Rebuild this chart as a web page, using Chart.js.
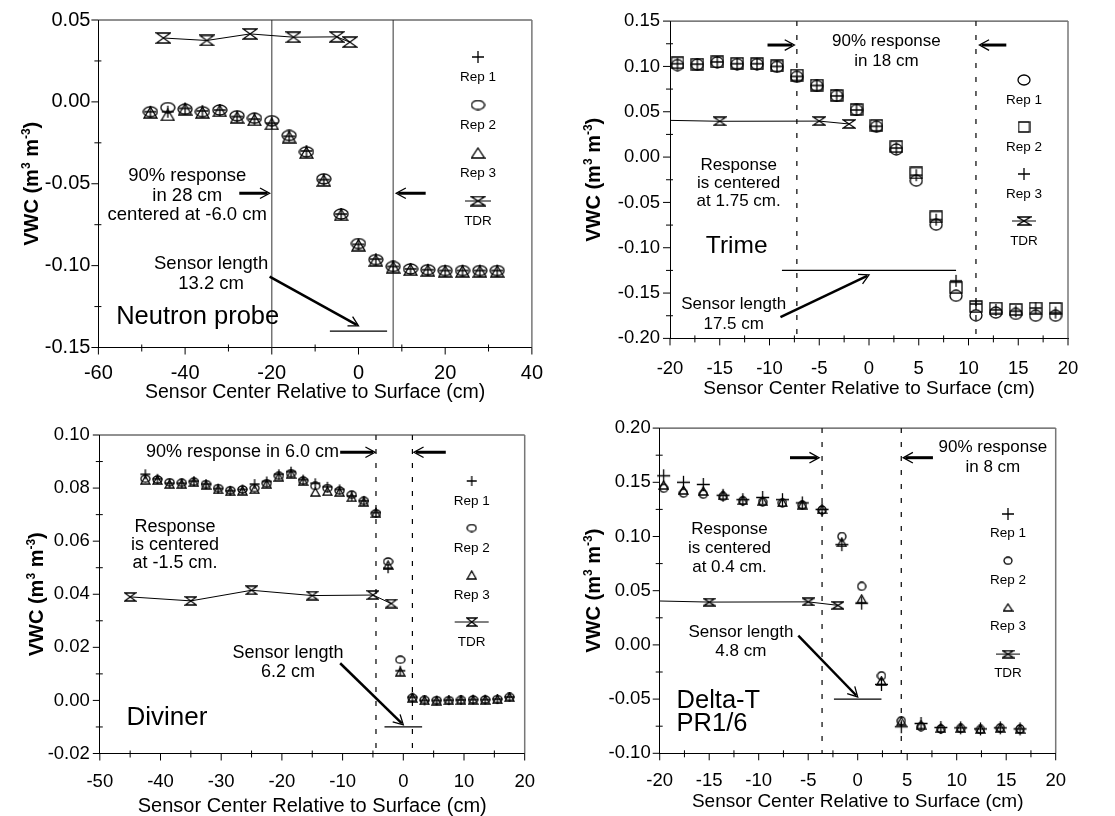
<!DOCTYPE html>
<html>
<head>
<meta charset="utf-8">
<script src="https://cdn.jsdelivr.net/npm/chart.js@4.4.1/dist/chart.umd.min.js"></script>
<style>
  body { margin: 0; background: #fff; width: 1115px; height: 816px; overflow: hidden; position: relative; }
  canvas { position: absolute; }
</style>
</head>
<body>
<canvas id="c1" width="557" height="408" style="left:0;top:0"></canvas>
<canvas id="c2" width="558" height="408" style="left:557px;top:0"></canvas>
<canvas id="c3" width="557" height="408" style="left:0;top:408px"></canvas>
<canvas id="c4" width="558" height="408" style="left:557px;top:408px"></canvas>
<script>
const FONT = "'Liberation Sans', Arial, sans-serif";

// TDR reference (same in every panel)
const tdrX = [-45, -35, -25, -15, -5, -2];
const tdrVWC = [0.0390, 0.0375, 0.0415, 0.0395, 0.0397, 0.0365];

// Neutron probe
const npX = [-48, -44, -40, -36, -32, -28, -24, -20, -16, -12, -8, -4, 0, 4, 8, 12, 16, 20, 24, 28, 32];
const npRep1 = [-0.0060, -0.0060, -0.0040, -0.0055, -0.0050, -0.0090, -0.0105, -0.0130, -0.0210, -0.0300, -0.0475, -0.0685, -0.0870, -0.0960, -0.1005, -0.1020, -0.1025, -0.1030, -0.1030, -0.1030, -0.1030];
const npRep2 = [-0.0060, -0.0035, -0.0045, -0.0060, -0.0050, -0.0085, -0.0100, -0.0115, -0.0205, -0.0305, -0.0470, -0.0685, -0.0865, -0.0963, -0.1005, -0.1020, -0.1025, -0.1030, -0.1030, -0.1030, -0.1030];
const npRep3 = [-0.0065, -0.0080, -0.0045, -0.0065, -0.0055, -0.0095, -0.0110, -0.0135, -0.0215, -0.0310, -0.0480, -0.0690, -0.0875, -0.0968, -0.1010, -0.1025, -0.1030, -0.1035, -0.1035, -0.1035, -0.1035];

// Trime
const trX = [-19.25, -17.25, -15.25, -13.25, -11.25, -9.25, -7.25, -5.25, -3.25, -1.25, 0.75, 2.75, 4.75, 6.75, 8.75, 10.75, 12.75, 14.75, 16.75, 18.75];
const trRep1 = [0.1015, 0.1020, 0.1045, 0.1025, 0.1025, 0.0995, 0.0885, 0.0785, 0.0675, 0.0520, 0.0335, 0.0085, -0.0260, -0.0745, -0.1530, -0.1745, -0.1715, -0.1730, -0.1750, -0.1750];
const trRep2 = [0.1040, 0.1025, 0.1050, 0.1035, 0.1030, 0.1005, 0.0905, 0.0795, 0.0680, 0.0525, 0.0350, 0.0115, -0.0175, -0.0660, -0.1440, -0.1650, -0.1665, -0.1680, -0.1665, -0.1670];
const trRep3 = [0.1030, 0.1025, 0.1050, 0.1030, 0.1030, 0.1000, 0.0890, 0.0790, 0.0675, 0.0520, 0.0340, 0.0100, -0.0200, -0.0690, -0.1365, -0.1620, -0.1685, -0.1700, -0.1665, -0.1715];

// Diviner
const dvX = [-42.5, -40.5, -38.5, -36.5, -34.5, -32.5, -30.5, -28.5, -26.5, -24.5, -22.5, -20.5, -18.5, -16.5, -14.5, -12.5, -10.5, -8.5, -6.5, -4.5, -2.5, -0.5, 1.5, 3.5, 5.5, 7.5, 9.5, 11.5, 13.5, 15.5, 17.5];
const dvRep1 = [0.0852, 0.0835, 0.0818, 0.0818, 0.0826, 0.0815, 0.0798, 0.0790, 0.0795, 0.0815, 0.0825, 0.0852, 0.0862, 0.0832, 0.0818, 0.0805, 0.0795, 0.0770, 0.0752, 0.0708, 0.0498, 0.0112, 0.0012, 0.0000, 0.0000, 0.0001, 0.0002, 0.0003, 0.0003, 0.0005, 0.0013];
const dvRep2 = [0.0835, 0.0832, 0.0822, 0.0820, 0.0824, 0.0815, 0.0800, 0.0792, 0.0795, 0.0800, 0.0818, 0.0846, 0.0856, 0.0828, 0.0808, 0.0800, 0.0790, 0.0775, 0.0752, 0.0705, 0.0523, 0.0153, 0.0010, 0.0002, 0.0001, 0.0001, 0.0002, 0.0003, 0.0003, 0.0005, 0.0013];
const dvRep3 = [0.0830, 0.0830, 0.0815, 0.0815, 0.0822, 0.0812, 0.0795, 0.0788, 0.0790, 0.0795, 0.0815, 0.0842, 0.0853, 0.0826, 0.0785, 0.0788, 0.0785, 0.0765, 0.0748, 0.0705, 0.0510, 0.0108, 0.0010, 0.0000, -0.0001, 0.0000, 0.0001, 0.0002, 0.0002, 0.0004, 0.0012];

// Delta-T PR1/6
const dtX = [-19.6, -17.6, -15.6, -13.6, -11.6, -9.6, -7.6, -5.6, -3.6, -1.6, 0.4, 2.4, 4.4, 6.4, 8.4, 10.4, 12.4, 14.4, 16.4];
const dtRep1 = [0.1560, 0.1500, 0.1480, 0.1380, 0.1340, 0.1360, 0.1340, 0.1310, 0.1250, 0.0925, 0.0385, -0.0365, -0.0755, -0.0725, -0.0762, -0.0765, -0.0775, -0.0765, -0.0775];
const dtRep2 = [0.1445, 0.1400, 0.1390, 0.1370, 0.1330, 0.1320, 0.1310, 0.1290, 0.1245, 0.1000, 0.0540, -0.0285, -0.0700, -0.0755, -0.0775, -0.0770, -0.0780, -0.0765, -0.0775];
const dtRep3 = [0.1475, 0.1430, 0.1420, 0.1380, 0.1335, 0.1330, 0.1315, 0.1295, 0.1250, 0.0945, 0.0425, -0.0330, -0.0705, -0.0735, -0.0765, -0.0765, -0.0775, -0.0765, -0.0775];

// tick labels
const npXTicks = [-60, -40, -20, 0, 20, 40];
const npYTicks = [-0.15, -0.10, -0.05, 0.00, 0.05];
const trXTicks = [-20, -15, -10, -5, 0, 5, 10, 15, 20];
const trYTicks = [-0.20, -0.15, -0.10, -0.05, 0.00, 0.05, 0.10, 0.15];
const dvXTicks = [-50, -40, -30, -20, -10, 0, 10, 20];
const dvYTicks = [-0.02, 0.00, 0.02, 0.04, 0.06, 0.08, 0.10];
const dtXTicks = [-20, -15, -10, -5, 0, 5, 10, 15, 20];
const dtYTicks = [-0.10, -0.05, 0.00, 0.05, 0.10, 0.15, 0.20];

const X_TITLE = 'Sensor Center Relative to Surface (cm)';

// small canvas images used as point styles
function marker(kind, w, h) {
  const c = document.createElement('canvas');
  c.width = w + 2; c.height = h + 2;
  const g = c.getContext('2d');
  g.strokeStyle = '#000'; g.lineWidth = 1.3;
  const x0 = 1, y0 = 1, cx = c.width / 2, cy = c.height / 2;
  g.beginPath();
  if (kind === 'plus') {
    g.moveTo(x0, cy); g.lineTo(x0 + w, cy);
    g.moveTo(cx, y0); g.lineTo(cx, y0 + h);
  } else if (kind === 'circle') {
    g.ellipse(cx, cy, w / 2, h / 2, 0, 0, Math.PI * 2);
  } else if (kind === 'triangle') {
    g.moveTo(cx, y0); g.lineTo(x0 + w, y0 + h); g.lineTo(x0, y0 + h); g.closePath();
  } else if (kind === 'square') {
    g.rect(x0, y0, w, h);
  } else if (kind === 'tdr') {
    g.moveTo(x0, y0); g.lineTo(x0 + w, y0); g.lineTo(x0, y0 + h); g.lineTo(x0 + w, y0 + h); g.closePath();
  }
  g.stroke();
  return c;
}

function pts(xs, ys) {
  return xs.map((x, i) => ({ x: x, y: ys[i] }));
}

function arrow(ctx, x1, y1, x2, y2, shaft) {
  const a = Math.atan2(y2 - y1, x2 - x1);
  ctx.lineWidth = shaft;
  ctx.beginPath();
  ctx.moveTo(x1, y1);
  ctx.lineTo(x2 - Math.cos(a) * 2, y2 - Math.sin(a) * 2);
  ctx.stroke();
  ctx.lineWidth = 1.3;
  ctx.beginPath();
  ctx.moveTo(x2 - 11 * Math.cos(a - 0.5), y2 - 11 * Math.sin(a - 0.5));
  ctx.lineTo(x2, y2);
  ctx.lineTo(x2 - 11 * Math.cos(a + 0.5), y2 - 11 * Math.sin(a + 0.5));
  ctx.stroke();
}

function drawYTitle(ctx, cx, cy, size) {
  const parts = [['VWC (m', 0], ['3', 1], [' m', 0], ['-3', 1], [')', 0]];
  const big = 'bold ' + size + 'px ' + FONT;
  const small = 'bold ' + Math.round(size * 0.62) + 'px ' + FONT;
  ctx.save();
  ctx.translate(cx, cy);
  ctx.rotate(-Math.PI / 2);
  let total = 0;
  parts.forEach(p => { ctx.font = p[1] ? small : big; total += ctx.measureText(p[0]).width; });
  let x = -total / 2;
  const base = size * 0.36;
  ctx.textAlign = 'left';
  ctx.textBaseline = 'alphabetic';
  ctx.fillStyle = '#000';
  parts.forEach(p => {
    ctx.font = p[1] ? small : big;
    ctx.fillText(p[0], x, p[1] ? base - size * 0.42 : base);
    x += ctx.measureText(p[0]).width;
  });
  ctx.restore();
}

// frame, minor ticks, arrows, notes, legend, titles
function decor(p) {
  return {
    id: 'decor',
    beforeDatasetsDraw(chart) {
      const { ctx, chartArea: a, scales: { x, y } } = chart;
      ctx.save();
      p.vlines.forEach(v => {
        const px = x.getPixelForValue(v);
        ctx.lineWidth = 1.2;
        ctx.strokeStyle = p.dashed ? '#000' : '#555';
        ctx.setLineDash(p.dashed ? [5, 9] : []);
        ctx.beginPath();
        ctx.moveTo(px, a.top);
        ctx.lineTo(px, a.bottom);
        ctx.stroke();
      });
      ctx.setLineDash([]);
      ctx.strokeStyle = '#000';
      ctx.lineWidth = 1.3;
      const s = p.sensor;
      ctx.beginPath();
      ctx.moveTo(x.getPixelForValue(s[0]), y.getPixelForValue(s[2]));
      ctx.lineTo(x.getPixelForValue(s[1]), y.getPixelForValue(s[2]));
      ctx.stroke();
      ctx.restore();
    },
    afterDraw(chart) {
      const { ctx, chartArea: a, scales: { x, y } } = chart;
      ctx.save();
      // frame top / right
      ctx.strokeStyle = '#222'; ctx.lineWidth = 1;
      ctx.beginPath(); ctx.moveTo(a.left, a.top); ctx.lineTo(a.right, a.top); ctx.stroke();
      ctx.strokeStyle = '#777'; ctx.lineWidth = 1.5;
      ctx.beginPath(); ctx.moveTo(a.right, a.top); ctx.lineTo(a.right, a.bottom); ctx.stroke();
      // ticks
      ctx.strokeStyle = '#000'; ctx.lineWidth = 1;
      const xt = p.xTicks, yt = p.yTicks;
      ctx.beginPath();
      xt.forEach((v, i) => {
        const px = x.getPixelForValue(v);
        ctx.moveTo(px, a.bottom); ctx.lineTo(px, a.bottom + 7);
        if (i < xt.length - 1) {
          const m = x.getPixelForValue((v + xt[i + 1]) / 2);
          ctx.moveTo(m, a.bottom - 3); ctx.lineTo(m, a.bottom + 4);
        }
      });
      yt.forEach((v, i) => {
        const py = y.getPixelForValue(v);
        ctx.moveTo(a.left - 7, py); ctx.lineTo(a.left, py);
        if (i < yt.length - 1) {
          const m = y.getPixelForValue((v + yt[i + 1]) / 2);
          ctx.moveTo(a.left - 4, m); ctx.lineTo(a.left + 3, m);
        }
      });
      ctx.stroke();
      // arrows
      ctx.strokeStyle = '#000';
      p.arrows.forEach(r => {
        arrow(ctx, x.getPixelForValue(r[0]), y.getPixelForValue(r[1]),
          x.getPixelForValue(r[2]), y.getPixelForValue(r[3]), r[4]);
      });
      // notes
      ctx.fillStyle = '#000';
      ctx.textBaseline = 'middle';
      p.notes.forEach(n => {
        ctx.font = n.size + 'px ' + FONT;
        ctx.textAlign = n.align || 'center';
        const px = x.getPixelForValue(n.x), py = y.getPixelForValue(n.y);
        n.lines.forEach((t, i) => ctx.fillText(t, px, py + i * n.gap));
      });
      // legend
      const L = p.legend;
      ctx.font = '13.5px ' + FONT;
      ctx.textAlign = 'center';
      L.items.forEach((it, i) => {
        const sy = L.sym0 + i * L.step, ty = L.text0 + i * L.step;
        if (it.line) {
          ctx.lineWidth = 1;
          ctx.beginPath();
          ctx.moveTo(L.cx - it.line / 2, sy); ctx.lineTo(L.cx + it.line / 2, sy);
          ctx.stroke();
        }
        ctx.drawImage(it.img, L.cx - it.img.width / 2, sy - it.img.height / 2);
        ctx.fillText(it.label, L.cx, ty);
      });
      // axis titles
      ctx.font = p.xTitleSize + 'px ' + FONT;
      ctx.textAlign = 'center';
      ctx.fillText(X_TITLE, (a.left + a.right) / 2, p.xTitleY);
      drawYTitle(ctx, p.yTitleX, (a.top + a.bottom) / 2, 20);
      ctx.restore();
    }
  };
}

function makePanel(id, p) {
  const cv = document.getElementById(id);
  const W = cv.width, H = cv.height;
  const datasets = p.series.map(s => ({
    data: s.data,
    pointStyle: s.img,
    pointRadius: 5,
    showLine: false,
    clip: false
  }));
  datasets.push({
    data: pts(tdrX, tdrVWC),
    pointStyle: p.tdrImg,
    pointRadius: 5,
    showLine: true,
    borderColor: '#000',
    borderWidth: 1,
    clip: 0
  });
  const tickFont = { family: FONT, size: p.tickSize, lineHeight: 1.2 };
  new Chart(cv, {
    type: 'scatter',
    data: { datasets: datasets },
    options: {
      responsive: false,
      animation: false,
      devicePixelRatio: 1,
      layout: { autoPadding: false, padding: { top: p.plot.top, right: W - p.plot.right, left: 0, bottom: 0 } },
      plugins: { legend: { display: false }, tooltip: { enabled: false } },
      scales: {
        x: {
          type: 'linear', min: p.xTicks[0], max: p.xTicks[p.xTicks.length - 1],
          afterBuildTicks: sc => { sc.ticks = p.xTicks.map(v => ({ value: v })); },
          afterFit: sc => { sc.height = H - p.plot.bottom; },
          ticks: { font: tickFont, color: '#000', padding: p.xPad, autoSkip: false, maxRotation: 0, callback: v => String(v) },
          grid: { display: false, drawTicks: false },
          border: { display: true, color: '#000', width: 1 }
        },
        y: {
          type: 'linear', min: p.yTicks[0], max: p.yTicks[p.yTicks.length - 1],
          afterBuildTicks: sc => { sc.ticks = p.yTicks.map(v => ({ value: v })); },
          afterFit: sc => { sc.width = p.plot.left; },
          ticks: { font: tickFont, color: '#000', padding: p.yPad, autoSkip: false, callback: v => v.toFixed(2) },
          grid: { display: false, drawTicks: false },
          border: { display: true, color: '#000', width: 1 }
        }
      }
    },
    plugins: [decor(p)]
  });
}

// ---- panel 1: Neutron probe
{
  const plus = marker('plus', 12, 12), circ = marker('circle', 14, 10), tri = marker('triangle', 13, 11);
  makePanel('c1', {
    plot: { left: 98.4, top: 18.3, right: 540, bottom: 347.5 },
    xTicks: npXTicks, yTicks: npYTicks, tickSize: 20, xPad: 14, yPad: 8,
    series: [{ data: pts(npX, npRep1), img: plus }, { data: pts(npX, npRep2), img: circ }, { data: pts(npX, npRep3), img: tri }],
    tdrImg: marker('tdr', 14, 10),
    dashed: false, vlines: [-20, 8], sensor: [-6.6, 6.6, -0.14],
    arrows: [[-27.5, -0.0558, -20.5, -0.0558, 3], [15.5, -0.0558, 8.7, -0.0558, 3], [-20.5, -0.1067, 0, -0.1368, 2.5]],
    notes: [
      { x: -39.5, y: -0.0455, lines: ['90% response', 'in 28 cm', 'centered at -6.0 cm'], gap: 19.5, size: 18.5 },
      { x: -34, y: -0.099, lines: ['Sensor length', '13.2 cm'], gap: 20, size: 18.5 },
      { x: -55.9, y: -0.1313, lines: ['Neutron probe'], gap: 0, size: 25.5, align: 'left' }
    ],
    legend: { cx: 478, sym0: 57, text0: 77, step: 48, items: [
      { img: marker('plus', 12, 12), label: 'Rep 1' },
      { img: marker('circle', 13, 9), label: 'Rep 2' },
      { img: marker('triangle', 13, 10), label: 'Rep 3' },
      { img: marker('tdr', 14, 9), label: 'TDR', line: 26 }
    ] },
    xTitleSize: 19.5, xTitleY: 393, yTitleX: 31
  });
}

// ---- panel 2: Trime
{
  const circ = marker('circle', 12, 11), sq = marker('square', 12, 11), plus = marker('plus', 12, 12);
  makePanel('c2', {
    plot: { left: 113, top: 15.7, right: 511, bottom: 338.4 },
    xTicks: trXTicks, yTicks: trYTicks, tickSize: 18.5, xPad: 19.5, yPad: 10,
    series: [{ data: pts(trX, trRep1), img: circ }, { data: pts(trX, trRep2), img: sq }, { data: pts(trX, trRep3), img: plus }],
    tdrImg: marker('tdr', 12, 8),
    dashed: true, vlines: [-7.25, 10.75], sensor: [-8.75, 8.75, -0.125],
    arrows: [[-10.2, 0.1236, -7.5, 0.1236, 3], [13.8, 0.1236, 11.1, 0.1236, 3], [-8.9, -0.1765, 0, -0.13, 2.5]],
    notes: [
      { x: 1.75, y: 0.1272, lines: ['90% response', 'in 18 cm'], gap: 20, size: 17 },
      { x: -13.1, y: -0.009, lines: ['Response', 'is centered', 'at 1.75 cm.'], gap: 18.2, size: 17 },
      { x: -16.4, y: -0.0987, lines: ['Trime'], gap: 0, size: 24.5, align: 'left' },
      { x: -13.6, y: -0.162, lines: ['Sensor length', '17.5 cm'], gap: 20, size: 17 }
    ],
    legend: { cx: 467, sym0: 80, text0: 100.7, step: 47, items: [
      { img: marker('circle', 12, 10), label: 'Rep 1' },
      { img: marker('square', 11, 10), label: 'Rep 2' },
      { img: marker('plus', 12, 12), label: 'Rep 3' },
      { img: marker('tdr', 13, 8), label: 'TDR', line: 24 }
    ] },
    xTitleSize: 19, xTitleY: 388.5, yTitleX: 36
  });
}

// ---- panel 3: Diviner
{
  const plus = marker('plus', 10, 10), circ = marker('circle', 9, 7), tri = marker('triangle', 9, 8);
  makePanel('c3', {
    plot: { left: 99.8, top: 27, right: 524.7, bottom: 345.5 },
    xTicks: dvXTicks, yTicks: dvYTicks, tickSize: 18.5, xPad: 17.4, yPad: 10,
    series: [{ data: pts(dvX, dvRep1), img: plus }, { data: pts(dvX, dvRep2), img: circ }, { data: pts(dvX, dvRep3), img: tri }],
    tdrImg: marker('tdr', 11, 8),
    dashed: true, vlines: [-4.5, 1.5], sensor: [-3.1, 3.1, -0.01],
    arrows: [[-10.4, 0.0935, -4.65, 0.0935, 3], [7.0, 0.0935, 1.75, 0.0935, 3], [-10.4, 0.014, 0, -0.0092, 2.5]],
    notes: [
      { x: -26.5, y: 0.0935, lines: ['90% response in 6.0 cm'], gap: 0, size: 18 },
      { x: -37.6, y: 0.0655, lines: ['Response', 'is centered', 'at -1.5 cm.'], gap: 18.3, size: 18 },
      { x: -19, y: 0.0178, lines: ['Sensor length', '6.2 cm'], gap: 18.4, size: 18 },
      { x: -45.6, y: -0.0067, lines: ['Diviner'], gap: 0, size: 26, align: 'left' }
    ],
    legend: { cx: 471.7, sym0: 73, text0: 93, step: 47, items: [
      { img: marker('plus', 10, 10), label: 'Rep 1' },
      { img: marker('circle', 9, 7), label: 'Rep 2' },
      { img: marker('triangle', 9, 8), label: 'Rep 3' },
      { img: marker('tdr', 10, 8), label: 'TDR', line: 34 }
    ] },
    xTitleSize: 20, xTitleY: 398, yTitleX: 36
  });
}

// ---- panel 4: Delta-T PR1/6
{
  const plus = marker('plus', 13, 13), circ = marker('circle', 8, 8), tri = marker('triangle', 9, 8);
  makePanel('c4', {
    plot: { left: 102.7, top: 19.3, right: 498.7, bottom: 345.3 },
    xTicks: dtXTicks, yTicks: dtYTicks, tickSize: 18.5, xPad: 16.6, yPad: 9,
    series: [{ data: pts(dtX, dtRep1), img: plus }, { data: pts(dtX, dtRep2), img: circ }, { data: pts(dtX, dtRep3), img: tri }],
    tdrImg: marker('tdr', 11, 7),
    dashed: true, vlines: [-3.6, 4.4], sensor: [-2.4, 2.4, -0.05],
    arrows: [[-6.84, 0.1727, -3.9, 0.1727, 3], [7.6, 0.1727, 4.6, 0.1727, 3], [-6, 0.0086, 0, -0.048, 2.5]],
    notes: [
      { x: 13.65, y: 0.182, lines: ['90% response', 'in 8 cm'], gap: 20, size: 17 },
      { x: -12.95, y: 0.1068, lines: ['Response', 'is centered', 'at 0.4 cm.'], gap: 19.2, size: 17 },
      { x: -11.8, y: 0.0116, lines: ['Sensor length', '4.8 cm'], gap: 19.3, size: 17 },
      { x: -18.3, y: -0.0513, lines: ['Delta-T', 'PR1/6'], gap: 23.3, size: 25.5, align: 'left' }
    ],
    legend: { cx: 451, sym0: 106, text0: 125.3, step: 46.7, items: [
      { img: marker('plus', 12, 12), label: 'Rep 1' },
      { img: marker('circle', 8, 7), label: 'Rep 2' },
      { img: marker('triangle', 9, 7), label: 'Rep 3' },
      { img: marker('tdr', 11, 7), label: 'TDR', line: 24 }
    ] },
    xTitleSize: 19, xTitleY: 393.7, yTitleX: 36
  });
}
</script>
</body>
</html>
